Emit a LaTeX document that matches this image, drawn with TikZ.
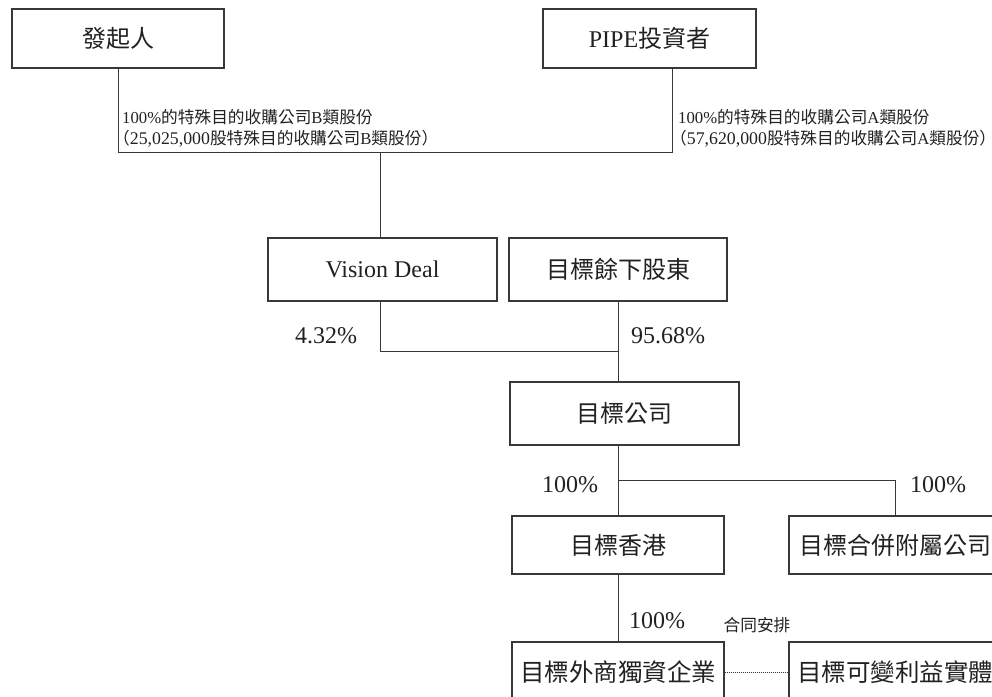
\documentclass[tikz,border=0pt]{standalone}
\usepackage{fontspec}
\setmainfont{Liberation Serif}
\newfontfamily\cjk{Noto Sans CJK TC}
\definecolor{linec}{gray}{0.22}
\definecolor{txtc}{gray}{0.13}
\begin{document}
\begin{tikzpicture}[x=1bp,y=-1bp,
  box/.style={draw=linec, line width=1.2bp, inner sep=0pt, text=txtc,
    font=\fontsize{24bp}{28bp}\selectfont},
  bigtext/.style={font=\fontsize{24.5bp}{28bp}\selectfont},
  lbl/.style={inner sep=0pt, text=txtc, font=\fontsize{24bp}{28bp}\selectfont},
  small/.style={inner sep=0pt, text=txtc, anchor=west, font=\fontsize{16.7bp}{19bp}\selectfont},
  conn/.style={draw=linec, line width=1bp},
  dotconn/.style={draw=linec, line width=0.8bp, dash pattern=on 1bp off 1bp}]
\useasboundingbox (0,0) rectangle (992,697);
\clip (0,0) rectangle (992,697);
% boxes
\node[box, minimum width=212bp, minimum height=59bp] (sponsor) at (118,38.5) {{\cjk 發起人}};
\node[box, minimum width=213bp, minimum height=59bp] (pipe) at (649.5,38.5) {PIPE{\cjk 投資者}};
\node[box, minimum width=229bp, minimum height=63bp] (vision) at (382.5,269.5) {Vision Deal};
\node[box, minimum width=218bp, minimum height=63bp] (rem) at (618,269.5) {{\cjk 目標餘下股東}};
\node[box, minimum width=229bp, minimum height=63bp] (target) at (624.5,413.5) {{\cjk 目標公司}};
\node[box, minimum width=212bp, minimum height=58bp] (hk) at (618,545) {{\cjk 目標香港}};
\node[box, minimum width=212bp, minimum height=58bp] (sub) at (895,545) {{\cjk 目標合併附屬公司}};
\node[box, bigtext, minimum width=212bp, minimum height=60bp] (wfoe) at (618,672) {{\cjk 目標外商獨資企業}};
\node[box, bigtext, minimum width=212bp, minimum height=60bp] (vie) at (895,672) {{\cjk 目標可變利益實體}};
% junction coordinates
\coordinate (jl) at (118,153);
\coordinate (jr) at (672,153);
\coordinate (jm) at (380,153);
\coordinate (jv) at (380,351);
\coordinate (jt) at (618,351);
\coordinate (jb) at (618,480);
\coordinate (js) at (895,480);
% connectors
\draw[conn] (sponsor.south) -- (jl) -- (jr) -- (jr |- pipe.south);
\draw[conn] (jm) -- (jm |- vision.north);
\draw[conn] (jm |- vision.south) -- (jv) -- (jt);
\draw[conn] (rem.south) -- (rem.south |- target.north);
\draw[conn] (rem.south |- target.south) -- (hk.north);
\draw[conn] (jb) -- (js) -- (sub.north);
\draw[conn] (hk.south) -- (wfoe.north);
\draw[dotconn] (wfoe.east) -- (vie.west);
% labels
\node[small] (bl1) at (122,117) {100\%{\cjk 的特殊目的收購公司}B{\cjk 類股份}};
\node[small] (bl2) at (113,139) {{\cjk （}{\fontsize{17.8bp}{19bp}\selectfont 25,025,000}{\cjk 股特殊目的收購公司}B{\cjk 類股份）}};
\node[small] (al1) at (678,117) {100\%{\cjk 的特殊目的收購公司}A{\cjk 類股份}};
\node[small] (al2) at (670,139) {{\cjk （}{\fontsize{17.8bp}{19bp}\selectfont 57,620,000}{\cjk 股特殊目的收購公司}A{\cjk 類股份）}};
\node[lbl] (p1) at (326,336) {4.32\%};
\node[lbl] (p2) at (668,336) {95.68\%};
\node[lbl] (p3) at (570,485) {100\%};
\node[lbl] (p4) at (938,485) {100\%};
\node[lbl] (p5) at (657,621) {100\%};
\node[small, anchor=center] (ca) at (757,625) {{\cjk 合同安排}};
\end{tikzpicture}
\end{document}
